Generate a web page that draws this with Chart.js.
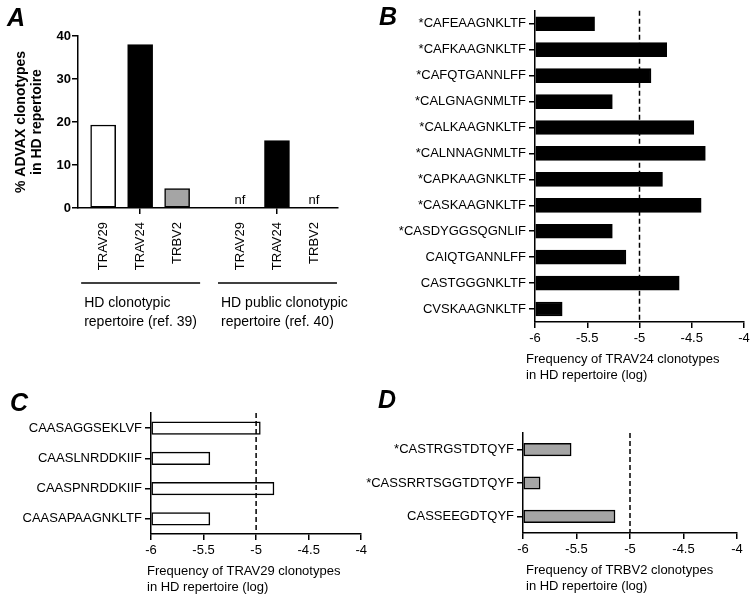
<!DOCTYPE html>
<html>
<head>
<meta charset="utf-8">
<script src="https://cdn.jsdelivr.net/npm/chart.js@4.4.0/dist/chart.umd.min.js"></script>
<style>
    body { margin: 0; background: #fff; width: 754px; height: 602px; position: relative; overflow: hidden; }
    canvas { position: absolute; }
    .letra { position: absolute; font: italic bold 25px "Liberation Sans", Arial, sans-serif; line-height: 25px; color: #000; }
</style>
</head>
<body>
<canvas id="grafico_a" width="350" height="340" style="left:0;top:0"></canvas>
<canvas id="grafico_b" width="424" height="400" style="left:330px;top:0"></canvas>
<canvas id="grafico_c" width="370" height="220" style="left:0;top:380px"></canvas>
<canvas id="grafico_d" width="394" height="220" style="left:360px;top:380px"></canvas>
<div class="letra" style="left:7px;top:5px">A</div>
<div class="letra" style="left:379px;top:4px">B</div>
<div class="letra" style="left:10px;top:390px">C</div>
<div class="letra" style="left:378px;top:387px">D</div>
<script>
// painel A
const genes = ['TRAV29', 'TRAV24', 'TRBV2'];
const coresGenes = ['#ffffff', '#000000', '#a5a5a5'];
const repertorioClonotipico = [19.3, 38.0, 4.5];
const repertorioPublico = [null, 15.7, null]; // null = nf (not found)
const gruposA = [['HD clonotypic', 'repertoire (ref. 39)'], ['HD public clonotypic', 'repertoire (ref. 40)']];
const ticksA = [0, 10, 20, 30, 40];

// paineis B, C, D
const clonotiposTRAV24 = ['*CAFEAAGNKLTF', '*CAFKAAGNKLTF', '*CAFQTGANNLFF', '*CALGNAGNMLTF', '*CALKAAGNKLTF', '*CALNNAGNMLTF',
    '*CAPKAAGNKLTF', '*CASKAAGNKLTF', '*CASDYGGSQGNLIF', 'CAIQTGANNLFF', 'CASTGGGNKLTF', 'CVSKAAGNKLTF'];
const freqTRAV24 = [-5.43, -4.74, -4.89, -5.26, -4.48, -4.37, -4.78, -4.41, -5.26, -5.13, -4.62, -5.74];
const clonotiposTRAV29 = ['CAASAGGSEKLVF', 'CAASLNRDDKIIF', 'CAASPNRDDKIIF', 'CAASAPAAGNKLTF'];
const freqTRAV29 = [-4.96, -5.44, -4.83, -5.44];
const clonotiposTRBV2 = ['*CASTRGSTDTQYF', '*CASSRRTSGGTDTQYF', 'CASSEEGDTQYF'];
const freqTRBV2 = [-5.55, -5.84, -5.14];
const ticksFreq = [-6, -5.5, -5, -4.5, -4];
const limiar = -5;

const fonte = '"Liberation Sans", Arial, sans-serif';
Chart.defaults.font.family = fonte;
Chart.defaults.color = '#000';
Chart.defaults.animation = false;

// barras do painel A: dois grupos de tres genes
const barrasA = [];
[repertorioClonotipico, repertorioPublico].forEach((serie, g) => {
    serie.forEach((v, i) => {
        barrasA.push({ x: i + g * 3.7 + 0.68, y: v, cor: coresGenes[i], gene: genes[i], grupo: g });
    });
});

const extrasA = {
    id: 'extrasA',
    afterDraw(chart) {
        const ctx = chart.ctx;
        const sx = chart.scales.x, sy = chart.scales.y;
        ctx.save();
        ctx.fillStyle = '#000';
        // nf
        ctx.font = '13px ' + fonte;
        ctx.textAlign = 'center';
        ctx.textBaseline = 'alphabetic';
        barrasA.forEach(b => {
            if (b.y === null) ctx.fillText('nf', sx.getPixelForValue(b.x), sy.getPixelForValue(0) - 4);
        });
        // linhas e legendas dos grupos
        const yLinha = chart.chartArea.bottom + 75;
        ctx.strokeStyle = '#000';
        ctx.lineWidth = 1.5;
        ctx.font = '14px ' + fonte;
        ctx.textAlign = 'left';
        ctx.textBaseline = 'middle';
        gruposA.forEach((texto, g) => {
            const xs = barrasA.filter(b => b.grupo === g).map(b => sx.getPixelForValue(b.x));
            const x0 = Math.min(...xs) - 22, x1 = Math.max(...xs) + 23;
            ctx.beginPath();
            ctx.moveTo(x0, yLinha);
            ctx.lineTo(x1, yLinha);
            ctx.stroke();
            ctx.fillText(texto[0], x0 + 3, yLinha + 20);
            ctx.fillText(texto[1], x0 + 3, yLinha + 39);
        });
        // titulo do eixo y
        ctx.font = 'bold 14px ' + fonte;
        ctx.textAlign = 'center';
        const yc = (chart.chartArea.top + chart.chartArea.bottom) / 2;
        ctx.translate(21, yc);
        ctx.rotate(-Math.PI / 2);
        ctx.fillText('% ADVAX clonotypes', 0, 0);
        ctx.fillText('in HD repertoire', 0, 16);
        ctx.restore();
    }
};

new Chart(document.getElementById('grafico_a'), {
    type: 'bar',
    data: {
        datasets: [{
            data: barrasA.map(b => ({ x: b.x, y: b.y })),
            backgroundColor: barrasA.map(b => b.cor),
            borderColor: '#000',
            borderWidth: 1.5,
            borderSkipped: false,
            barThickness: 25
        }]
    },
    options: {
        responsive: false,
        layout: { padding: { top: 36, right: 12, left: 0, bottom: 0 } },
        plugins: { legend: { display: false }, tooltip: { enabled: false } },
        scales: {
            x: {
                type: 'linear',
                min: 0,
                max: 7.03,
                offset: false,
                afterBuildTicks: s => { s.ticks = barrasA.map(b => ({ value: b.x })); },
                afterFit: s => { s.height = 132; },
                border: { color: '#000', width: 1.5 },
                grid: {
                    offset: false,
                    drawOnChartArea: false,
                    tickLength: 6,
                    lineWidth: 1.5,
                    color: c => (c.index % 3 === 1 ? '#000' : 'rgba(0,0,0,0)')
                },
                ticks: {
                    autoSkip: false,
                    maxRotation: 90,
                    minRotation: 90,
                    padding: 8,
                    font: { size: 13 },
                    callback: (v, i) => barrasA[i].gene
                }
            },
            y: {
                min: 0,
                max: 40,
                afterBuildTicks: s => { s.ticks = ticksA.map(v => ({ value: v })); },
                afterFit: s => { s.width = 78; },
                border: { color: '#000', width: 1.5 },
                grid: { drawOnChartArea: false, tickLength: 6, lineWidth: 1.5, color: '#000' },
                ticks: { padding: 1, font: { size: 13, weight: 'bold' } }
            }
        }
    },
    plugins: [extrasA]
});

function painelHorizontal(id, rotulos, valores, cor, espessura, titulo, dxTitulo, medidas) {
    const extras = {
        id: 'extras_' + id,
        afterDatasetsDraw(chart) {
            const ctx = chart.ctx;
            const xl = chart.scales.x.getPixelForValue(limiar);
            ctx.save();
            ctx.strokeStyle = '#000';
            ctx.lineWidth = 1.5;
            ctx.setLineDash([5, 3]);
            ctx.beginPath();
            ctx.moveTo(xl, chart.chartArea.top);
            ctx.lineTo(xl, chart.chartArea.bottom);
            ctx.stroke();
            ctx.restore();
        },
        afterDraw(chart) {
            const ctx = chart.ctx;
            ctx.save();
            ctx.fillStyle = '#000';
            ctx.font = '13px ' + fonte;
            ctx.textAlign = 'left';
            ctx.textBaseline = 'middle';
            const x0 = chart.chartArea.left + dxTitulo;
            ctx.fillText(titulo[0], x0, chart.chartArea.bottom + 37);
            ctx.fillText(titulo[1], x0, chart.chartArea.bottom + 53);
            ctx.restore();
        }
    };

    return new Chart(document.getElementById(id), {
        type: 'bar',
        data: {
            labels: rotulos,
            datasets: [{
                data: valores,
                base: -6,
                backgroundColor: cor,
                borderColor: '#000',
                borderWidth: 1.5,
                borderSkipped: false,
                barThickness: espessura
            }]
        },
        options: {
            indexAxis: 'y',
            responsive: false,
            layout: { padding: { top: medidas.topo, right: medidas.direita, left: 0, bottom: 0 } },
            plugins: { legend: { display: false }, tooltip: { enabled: false } },
            scales: {
                x: {
                    type: 'linear',
                    min: -6,
                    max: -4,
                    afterBuildTicks: s => { s.ticks = ticksFreq.map(v => ({ value: v })); },
                    afterFit: s => { s.height = medidas.altX; },
                    border: { color: '#000', width: 1.5 },
                    grid: { drawOnChartArea: false, tickLength: 6, lineWidth: 1.5, color: '#000' },
                    ticks: { padding: 3, font: { size: 13 }, callback: v => String(v) }
                },
                y: {
                    afterFit: s => { s.width = medidas.largY; },
                    border: { color: '#000', width: 1.5 },
                    grid: { offset: false, drawOnChartArea: false, tickLength: 6, lineWidth: 1.5, color: '#000' },
                    ticks: { autoSkip: false, padding: 3, font: { size: 13 } }
                }
            }
        },
        plugins: [extras]
    });
}

painelHorizontal('grafico_b', clonotiposTRAV24, freqTRAV24, '#000000', 14,
    ['Frequency of TRAV24 clonotypes', 'in HD repertoire (log)'], -9,
    { largY: 205, altX: 78, topo: 8, direita: 10 });

painelHorizontal('grafico_c', clonotiposTRAV29, freqTRAV29, '#ffffff', 12.5,
    ['Frequency of TRAV29 clonotypes', 'in HD repertoire (log)'], -4,
    { largY: 151, altX: 66, topo: 33, direita: 7 });

painelHorizontal('grafico_d', clonotiposTRBV2, freqTRBV2, '#a5a5a5', 12.5,
    ['Frequency of TRBV2 clonotypes', 'in HD repertoire (log)'], 3,
    { largY: 163, altX: 67, topo: 53, direita: 17 });
</script>
</body>
</html>
